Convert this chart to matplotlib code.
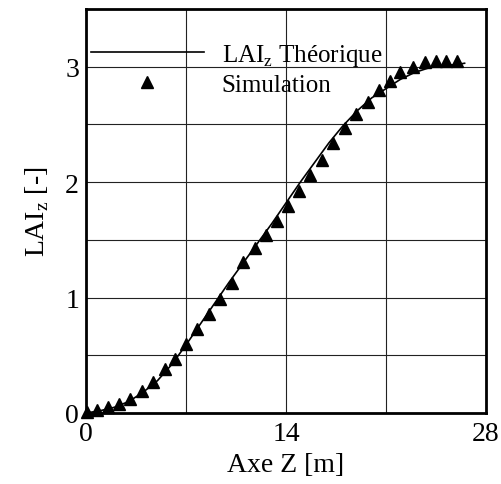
import numpy as np
import matplotlib
matplotlib.use('Agg')
import matplotlib.pyplot as plt

plt.rcParams['font.family'] = ['Liberation Serif', 'DejaVu Serif']
plt.rcParams['mathtext.fontset'] = 'custom'
plt.rcParams['mathtext.rm'] = 'Liberation Serif'

# theoretical LAI_z curve
z_theo = [0, 1, 2, 3, 4, 5, 6, 7, 8, 9, 10, 11, 12, 13, 14, 15, 16, 17, 18,
          19, 20, 21, 22, 23, 24, 25, 26, 26.5]
lai_theo = [0, 0.02, 0.05, 0.10, 0.18, 0.28, 0.42, 0.59, 0.77, 0.95, 1.13,
            1.30, 1.47, 1.64, 1.82, 2.00, 2.17, 2.34, 2.49, 2.62, 2.73, 2.81,
            2.89, 2.95, 2.99, 3.01, 3.02, 3.03]

# simulation points
z_sim = [0.05, 0.75, 1.56, 2.33, 3.08, 3.9, 4.71, 5.5, 6.25, 7.0, 7.8, 8.6,
         9.4, 10.2, 11.0, 11.8, 12.6, 13.4, 14.16, 14.9, 15.7, 16.5, 17.3,
         18.1, 18.9, 19.75, 20.5, 21.3, 22.0, 22.86, 23.7, 24.5, 25.2, 26.0]
lai_sim = [0.01, 0.03, 0.05, 0.08, 0.12, 0.19, 0.27, 0.38, 0.47, 0.60, 0.73,
           0.86, 0.99, 1.13, 1.31, 1.43, 1.54, 1.66, 1.79, 1.92, 2.06, 2.19,
           2.34, 2.47, 2.59, 2.69, 2.80, 2.88, 2.95, 3.00, 3.04, 3.05, 3.05,
           3.05]

fig = plt.figure(figsize=(5.01, 4.85), dpi=100)
ax = fig.add_axes([0.1717, 0.1464, 0.7984, 0.8330])

ax.plot(z_theo, lai_theo, color='black', lw=1.2,
        label='LAI$_\\mathregular{z}$ Théorique', zorder=3)
ax.plot(z_sim, lai_sim, '^', color='black', ms=8, clip_on=False,
        label='Simulation', zorder=4)

ax.set_xlim(0, 28)
ax.set_ylim(0, 3.5)
ax.set_xticks([0, 14, 28])
ax.set_yticks([0, 1, 2, 3])
ax.set_xticks([7, 21], minor=True)
ax.set_yticks([0.5, 1.5, 2.5], minor=True)
ax.grid(True, which='both', color='#222222', lw=0.8)
ax.set_axisbelow(True)
ax.tick_params(which='both', length=0, labelsize=20)
ax.tick_params(axis='x', pad=6)
ax.tick_params(axis='y', pad=5)
for s in ax.spines.values():
    s.set_linewidth(2)

ax.set_xlabel('Axe Z [m]', fontsize=20, labelpad=4)
ax.set_ylabel('LAI$_\\mathregular{z}$ [-]', fontsize=20, labelpad=10)

ax.legend(loc='upper left', bbox_to_anchor=(0.0125, 0.918), frameon=False,
          fontsize=18, handlelength=4.5, handletextpad=0.72, borderpad=0,
          borderaxespad=0, labelspacing=0.2, numpoints=1)

plt.savefig('out.png', dpi=100)
